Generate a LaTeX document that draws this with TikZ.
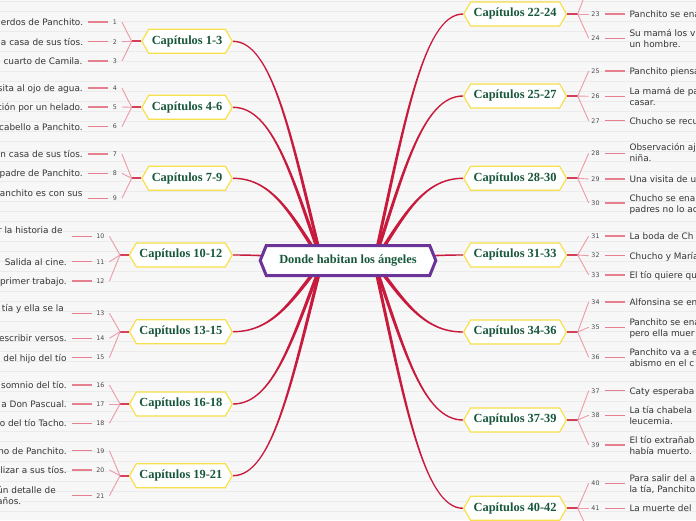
\documentclass[tikz,border=0pt]{standalone}
\usepackage{fontspec}
\setmainfont{Liberation Serif}
\newfontfamily\leaffont{DejaVu Sans}
\usetikzlibrary{shapes.symbols,calc}
\pgfdeclarelayer{back}
\pgfdeclarelayer{mid}
\pgfsetlayers{back,mid,main}
\definecolor{bgc}{HTML}{F7F7F7}
\definecolor{stripe}{HTML}{EBEBEB}
\definecolor{ttl}{HTML}{17573A}
\definecolor{ylw}{HTML}{F7E04B}
\definecolor{purp}{HTML}{6C3398}
\definecolor{brc}{HTML}{C71A3C}
\definecolor{stubc}{HTML}{D4405A}
\definecolor{fanc}{HTML}{EC9AA6}
\definecolor{lnc}{HTML}{E6808F}
\definecolor{txt}{HTML}{363636}
\definecolor{numc}{HTML}{4A4A4A}
\newcommand\tl[1]{\begin{tabular}[t]{@{}l@{}}#1\end{tabular}}
% left leaf: id, num x, num y, text right x, text baseline, text, branch, shorten
\newcommand\leafL[8]{%
  \node[numL] (n#1) at (#2,#3) {#1};
  \node[leaf, anchor=base east] (l#1) at (#4,#5) {#6};
  \draw[fan] (#7) -- (n#1.east);
  \draw[lline, shorten >=#8] (n#1.west) -- (n#1.west -| l#1.east);}
% right leaf: id, num y, baseline, text, branch
\newcommand\leafR[5]{%
  \node[numR] (n#1) at (595.5,#2) {#1};
  \node[leaf, anchor=base west] (l#1) at (629.3,#3) {#4};
  \draw[fan] (#5) -- (n#1.west);
  \draw[lline, shorten <=2.2pt, shorten >=4.6pt] (n#1.east) -- (n#1.east -| l#1.west);}
% tapered main branch: start, end, sx, sy, dir
\newcommand\branch[5]{%
  \fill[brc] let \p1=(#1), \p2=(#2), \p3=($(\p1)!0.55!(\p2)$) in
  ({\x1+(#3)*1.3pt},{\y1+(#4)*1.3pt})
  .. controls ({\x1+(#5)*30pt+(#3)*1.3pt},{\y3+(#4)*1.3pt}) and ({\x2-(#5)*40pt},{\y2+(#4)*0.7pt})
  .. ({\x2},{\y2+(#4)*0.7pt})
  -- ({\x2},{\y2-(#4)*0.7pt})
  .. controls ({\x2-(#5)*40pt},{\y2-(#4)*0.7pt}) and ({\x1+(#5)*30pt-(#3)*1.3pt},{\y3-(#4)*1.3pt})
  .. ({\x1-(#3)*1.3pt},{\y1-(#4)*1.3pt}) -- cycle;}
\begin{document}
\begin{tikzpicture}[x=1pt,y=-1pt,
  topic/.style={signal, signal to=west and east, signal pointer angle=120,
    draw=ylw, line width=1.2pt, fill=white, text=ttl,
    font=\fontsize{12.4}{14}\selectfont\bfseries,
    minimum height=24pt, inner xsep=3pt, inner ysep=2pt},
  centerhex/.style={signal, signal to=west and east, signal pointer angle=136,
    draw=purp, line width=3pt, fill=white, text=ttl,
    font=\fontsize{12.4}{14}\selectfont\bfseries,
    minimum height=30pt, inner xsep=13pt, inner ysep=2pt},
  leaf/.style={font=\leaffont\fontsize{8.9}{11}\selectfont, text=txt, inner sep=0pt},
  numL/.style={font=\leaffont\fontsize{6.3}{7}\selectfont, text=numc, inner xsep=4.7pt, inner ysep=1pt},
  numR/.style={font=\leaffont\fontsize{6.3}{7}\selectfont, text=numc, inner xsep=2.6pt, inner ysep=1pt},
  fan/.style={draw=fanc, line width=0.9pt},
  lline/.style={draw=lnc, line width=1.2pt},
  stub/.style={draw=stubc, line width=2pt}]
\useasboundingbox (0,0) rectangle (696,520);
\begin{pgfonlayer}{back}
  \fill[bgc] (0,0) rectangle (696,520);
  \foreach \k in {0,...,52} \draw[stripe, line width=1pt] (0,10*\k+1.7) -- (696,10*\k+1.7);
\end{pgfonlayer}

% central topic
\node[centerhex] (c) at (348,260.5) {Donde habitan los ángeles};
\coordinate (cl) at (322,262);
\coordinate (cr) at (374,262);

% main topics, left
\node[topic, anchor=east] (t1) at (233,41.3) {Capítulos 1-3};
\node[topic, anchor=east] (t2) at (233,107.3) {Capítulos 4-6};
\node[topic, anchor=east] (t3) at (233,178.3) {Capítulos 7-9};
\node[topic, anchor=east] (t4) at (233,255) {Capítulos 10-12};
\node[topic, anchor=east] (t5) at (233,331.7) {Capítulos 13-15};
\node[topic, anchor=east] (t6) at (233,404) {Capítulos 16-18};
\node[topic, anchor=east] (t7) at (233,475.7) {Capítulos 19-21};
% main topics, right
\node[topic, anchor=west] (t8) at (463,14) {Capítulos 22-24};
\node[topic, anchor=west] (t9) at (463,96) {Capítulos 25-27};
\node[topic, anchor=west] (t10) at (463,178.3) {Capítulos 28-30};
\node[topic, anchor=west] (t11) at (463,255) {Capítulos 31-33};
\node[topic, anchor=west] (t12) at (463,332) {Capítulos 34-36};
\node[topic, anchor=west] (t13) at (463,420) {Capítulos 37-39};
\node[topic, anchor=west] (t14) at (463,508.3) {Capítulos 40-42};

\begin{pgfonlayer}{mid}
  \branch{cl}{t1.east}{-1}{-1}{-1}
  \branch{cl}{t2.east}{-1}{-1}{-1}
  \branch{cl}{t3.east}{-1}{-1}{-1}
  \branch{cl}{t4.east}{-1}{-1}{-1}
  \branch{cl}{t5.east}{1}{-1}{-1}
  \branch{cl}{t6.east}{1}{-1}{-1}
  \branch{cl}{t7.east}{1}{-1}{-1}
  \branch{cr}{t8.west}{-1}{1}{1}
  \branch{cr}{t9.west}{-1}{1}{1}
  \branch{cr}{t10.west}{-1}{1}{1}
  \branch{cr}{t11.west}{-1}{1}{1}
  \branch{cr}{t12.west}{1}{1}{1}
  \branch{cr}{t13.west}{1}{1}{1}
  \branch{cr}{t14.west}{1}{1}{1}
\end{pgfonlayer}

% branch points
\coordinate (b1) at (131.7,41.3);
\coordinate (b2) at (131.7,107.3);
\coordinate (b3) at (131.7,178.3);
\coordinate (b4) at (120,255);
\coordinate (b5) at (120,331.7);
\coordinate (b6) at (120,404);
\coordinate (b7) at (120,475.7);
\coordinate (b8) at (577.7,14);
\coordinate (b9) at (577.7,96);
\coordinate (b10) at (577.7,178.3);
\coordinate (b11) at (577.7,255);
\coordinate (b12) at (577.7,332);
\coordinate (b13) at (577.7,420);
\coordinate (b14) at (577.7,508.3);
\foreach \i in {1,...,7} \draw[stub] (t\i.west) -- (b\i);
\foreach \i in {8,...,14} \draw[stub] (t\i.east) -- (b\i);

% left leaves
\leafL{1}{115}{22}{83.3}{25.3}{erdos de Panchito.}{b1}{5pt}
\leafL{2}{115}{41.7}{83.3}{45}{a casa de sus tíos.}{b1}{5pt}
\leafL{3}{115}{61}{82.7}{64.3}{cuarto de Camila.}{b1}{5pt}
\leafL{4}{115}{88}{83}{91.3}{sita al ojo de agua.}{b2}{5pt}
\leafL{5}{115}{107}{83}{110.3}{ción por un helado.}{b2}{5pt}
\leafL{6}{115}{126.7}{83}{130}{cabello a Panchito.}{b2}{5pt}
\leafL{7}{115}{154}{83}{157.3}{n casa de sus tíos.}{b3}{5pt}
\leafL{8}{115}{173.3}{83}{176.6}{padre de Panchito.}{b3}{5pt}
\leafL{9}{115}{198.3}{82.7}{196}{anchito es con sus}{b3}{5.3pt}
\leafL{10}{100.5}{236.3}{62.7}{233.6}{r la historia de}{b4}{9.3pt}
\leafL{11}{100.5}{261.7}{67}{265}{Salida al cine.}{b4}{5pt}
\leafL{12}{100.5}{281}{67}{284.3}{primer trabajo.}{b4}{5pt}
\leafL{13}{100.5}{313.3}{64}{311}{tía y ella se la}{b5}{8pt}
\leafL{14}{100.5}{338.3}{67}{341.6}{escribir versos.}{b5}{5pt}
\leafL{15}{100.5}{357.7}{66.7}{361}{del hijo del tío}{b5}{5.3pt}
\leafL{16}{100.5}{385}{67}{388.3}{somnio del tío.}{b6}{5pt}
\leafL{17}{100.5}{404}{67}{407.3}{a Don Pascual.}{b6}{5pt}
\leafL{18}{100.5}{423.3}{67}{426.6}{o del tío Tacho.}{b6}{5pt}
\leafL{19}{100.5}{450.7}{67}{454}{no de Panchito.}{b7}{5pt}
\leafL{20}{100.5}{470}{67}{473.3}{lizar a sus tíos.}{b7}{5pt}
\leafL{21}{100.5}{495.7}{56}{493.3}{\tl{ún detalle de\\años.}}{b7}{16pt}

% right leaves
\coordinate (e22) at (589.3,-16.6);
\draw[fan] (b8) -- (e22);
\leafR{23}{14}{17.3}{Panchito se ena}{b8}
\leafR{24}{38.3}{36.6}{\tl{Su mamá los v\\un hombre.}}{b8}
\leafR{25}{71}{74.3}{Panchito piensa}{b9}
\leafR{26}{96.3}{94.3}{\tl{La mamá de pa\\casar.}}{b9}
\leafR{27}{120.7}{124}{Chucho se recu}{b9}
\leafR{28}{153.3}{150.6}{\tl{Observación aj\\niña.}}{b10}
\leafR{29}{179}{182.3}{Una visita de u}{b10}
\leafR{30}{203}{201.6}{\tl{Chucho se ena\\padres no lo ac}}{b10}
\leafR{31}{236}{239.3}{La boda de Ch}{b11}
\leafR{32}{255.7}{259}{Chucho y María}{b11}
\leafR{33}{275}{278.3}{El tío quiere qu}{b11}
\leafR{34}{302}{305.3}{Alfonsina se en}{b12}
\leafR{35}{327.3}{325.3}{\tl{Panchito se ena\\pero ella muer}}{b12}
\leafR{36}{357.3}{355.3}{\tl{Panchito va a e\\abismo en el c}}{b12}
\leafR{37}{390.7}{394}{Caty esperaba}{b13}
\leafR{38}{415.3}{413.3}{\tl{La tía chabela\\leucemia.}}{b13}
\leafR{39}{445}{443.3}{\tl{El tío extrañab\\había muerto.}}{b13}
\leafR{40}{483.3}{481.6}{\tl{Para salir del a\\la tía, Panchito}}{b14}
\leafR{41}{508.3}{511.6}{La muerte del}{b14}
\coordinate (e42) at (589.3,533);
\draw[fan] (b14) -- (e42);
\end{tikzpicture}
\end{document}
